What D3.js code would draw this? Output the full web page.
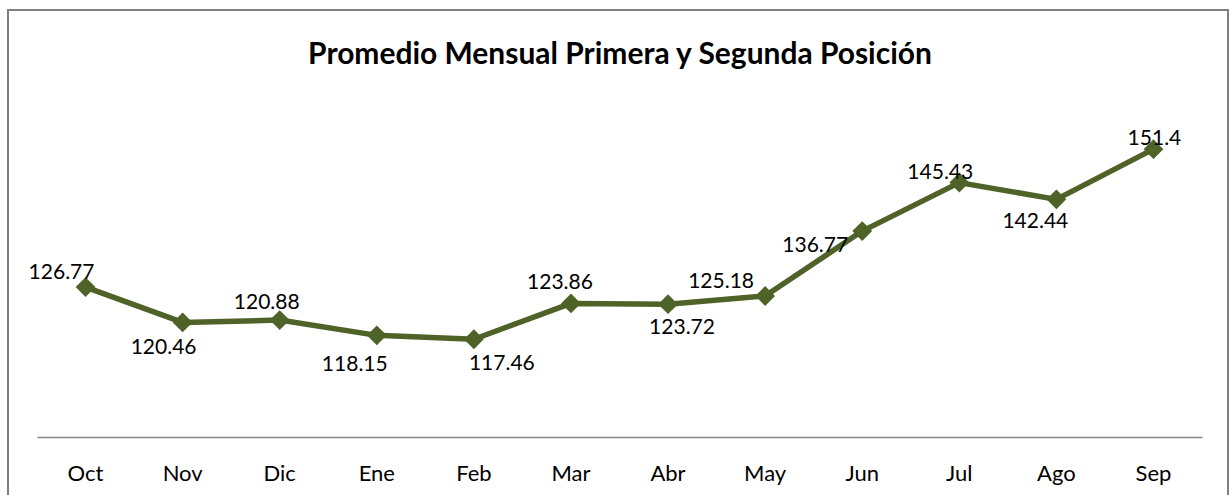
<!DOCTYPE html>
<html>
<head>
<meta charset="utf-8">
<script src="https://cdn.jsdelivr.net/npm/d3@7"></script>
<style>
  body { margin: 0; background: #fff; }
  svg { display: block; }
  text { font-family: Lato, "Open Sans", sans-serif; fill: #000; }
</style>
</head>
<body>
<script>
// data
var months = ['Oct', 'Nov', 'Dic', 'Ene', 'Feb', 'Mar', 'Abr', 'May', 'Jun', 'Jul', 'Ago', 'Sep'];
var values = [126.77, 120.46, 120.88, 118.15, 117.46, 123.86, 123.72, 125.18, 136.77, 145.43, 142.44, 151.4];
var valueLabels = ['126.77', '120.46', '120.88', '118.15', '117.46', '123.86', '123.72', '125.18', '136.77', '145.43', '142.44', '151.4'];
var chartTitle = 'Promedio Mensual Primera y Segunda Posición';

// label offsets from each point (x, y of text centre)
var labelOffsets = [[-24, -17], [-19, 23], [-13, -20], [-22, 27], [28, 22], [-11, -23],
  [14, 21], [-44, -16], [-47, 12], [-19, -12], [-21, 20], [1, -13]];

var width = 1232;
var height = 495;
var color = '#4F6228';

var svg = d3.select('body')
  .append('svg')
  .attr('width', width)
  .attr('height', height);

// outer border (bottom edge is cut off in the picture)
svg.append('rect')
  .attr('x', 8)
  .attr('y', 10)
  .attr('width', 1220)
  .attr('height', 500)
  .attr('fill', 'none')
  .attr('stroke', '#7f7f7f')
  .attr('stroke-width', 2);

var title = svg.append('text')
  .attr('x', 620)
  .attr('y', 52)
  .attr('text-anchor', 'middle')
  .attr('dominant-baseline', 'central')
  .style('font-size', '28px')
  .style('font-weight', 'bold')
  .text(chartTitle);

// stretch title to the width it has in the picture
var tw = title.node().getComputedTextLength();
title.style('font-size', (28 * 624 / tw) + 'px');

var x = d3.scaleBand()
  .domain(months)
  .range([37, 1202]);

var y = d3.scaleLinear()
  .domain([100, 160])
  .range([437, 101]);

// x axis
var xAxis = svg.append('g')
  .attr('transform', 'translate(0,437)')
  .call(d3.axisBottom(x).tickSize(0).tickPadding(35));

xAxis.select('.domain')
  .attr('stroke', '#868686')
  .attr('stroke-width', 1.5);

xAxis.selectAll('text')
  .attr('dy', null)
  .attr('dominant-baseline', 'central')
  .style('font-family', 'Lato, "Open Sans", sans-serif')
  .style('font-size', '22px')
  .attr('fill', '#000');

var cx = function(d, i) { return x(months[i]) + x.bandwidth() / 2; };

var line = d3.line()
  .x(function(d, i) { return cx(d, i); })
  .y(function(d) { return y(d); });

svg.append('path')
  .datum(values)
  .attr('fill', 'none')
  .attr('stroke', color)
  .attr('stroke-width', 5.5)
  .attr('stroke-linejoin', 'round')
  .attr('d', line);

svg.selectAll('.marker')
  .data(values)
  .enter()
  .append('path')
  .attr('class', 'marker')
  .attr('d', d3.symbol().type(d3.symbolDiamond2).size(250))
  .attr('fill', color)
  .attr('transform', function(d, i) {
    return 'translate(' + cx(d, i) + ',' + y(d) + ')';
  });

svg.selectAll('.val')
  .data(values)
  .enter()
  .append('text')
  .attr('class', 'val')
  .attr('x', function(d, i) { return cx(d, i) + labelOffsets[i][0]; })
  .attr('y', function(d, i) { return y(d) + labelOffsets[i][1]; })
  .attr('text-anchor', 'middle')
  .attr('dominant-baseline', 'central')
  .style('font-size', '21px')
  .text(function(d, i) { return valueLabels[i]; });
</script>
</body>
</html>
